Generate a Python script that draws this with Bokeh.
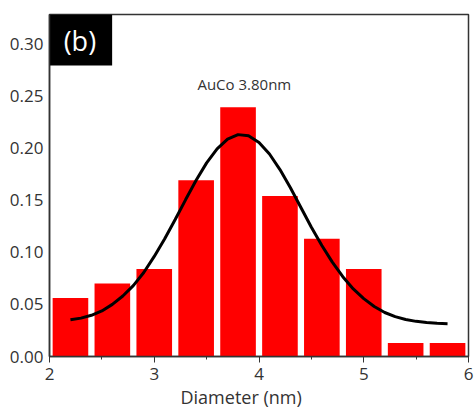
from bokeh.plotting import figure
from bokeh.models import FixedTicker, NumeralTickFormatter, Range1d, ColumnDataSource, Title
from bokeh.core.properties import value
from bokeh.embed import file_html
from bokeh.resources import INLINE

# Histogram data (bin centres, nm) and relative frequency
bin_centers = [2.2, 2.6, 3.0, 3.4, 3.8, 4.2, 4.6, 5.0, 5.4, 5.8]
frequency = [0.056, 0.070, 0.084, 0.169, 0.239, 0.154, 0.113, 0.084, 0.013, 0.013]

# Fitted curve
fit_x = [2.2, 2.3, 2.4, 2.5, 2.6, 2.7, 2.8, 2.9, 3.0, 3.1, 3.2, 3.3, 3.4, 3.5,
         3.6, 3.7, 3.8, 3.9, 4.0, 4.1, 4.2, 4.3, 4.4, 4.5, 4.6, 4.7, 4.8, 4.9,
         5.0, 5.1, 5.2, 5.3, 5.4, 5.5, 5.6, 5.7, 5.8]
fit_y = [0.0352, 0.0368, 0.0395, 0.0437, 0.0500, 0.0580, 0.0680, 0.0806, 0.0960,
         0.1129, 0.1314, 0.1505, 0.1690, 0.1857, 0.1992, 0.2085, 0.2128, 0.2117,
         0.2053, 0.1942, 0.1793, 0.1618, 0.1429, 0.1239, 0.1065, 0.0905, 0.0765,
         0.0648, 0.0555, 0.0480, 0.0422, 0.0382, 0.0355, 0.0337, 0.0325, 0.0318,
         0.0315]

x_ticks = [2, 3, 4, 5, 6]
y_ticks = [0.00, 0.05, 0.10, 0.15, 0.20, 0.25, 0.30]
panel_label = "(b)"
annotation = "AuCo 3.80nm"
x_title = "Diameter (nm)"

FONT = "Open Sans"
Y_TOP = 0.328

p = figure(width=474, height=414, output_backend="svg", toolbar_location=None,
           x_range=Range1d(2, 6), y_range=Range1d(0, Y_TOP),
           min_border_left=49, min_border_top=14, min_border_right=6,
           min_border_bottom=58)

p.grid.visible = False
p.outline_line_color = "#333333"
p.outline_line_width = 1.5
p.background_fill_color = "white"
p.border_fill_color = "white"

src = ColumnDataSource(dict(x=bin_centers, top=frequency))
p.vbar(x="x", top="top", bottom=0, width=0.34, source=src,
       fill_color="#FF0000", line_color=None)

p.line(fit_x, fit_y, line_color="black", line_width=3)

# Panel label box
p.quad(left=[2.0], right=[2.598], bottom=[0.279], top=[Y_TOP],
       fill_color="black", line_color=None)
p.text(x=[2.29], y=[0.3035], text=[panel_label], text_color="white",
       text_font=value(FONT), text_font_size="27px",
       text_align="center", text_baseline="middle")

p.text(x=[3.86], y=[0.261], text=[annotation], text_color="#333333",
       text_font=value(FONT), text_font_size="15px",
       text_align="center", text_baseline="middle")

xa = p.xaxis[0]
xa.ticker = FixedTicker(ticks=x_ticks, minor_ticks=[2.5, 3.5, 4.5, 5.5])
xa.major_label_text_font = FONT
xa.major_label_text_font_size = "17px"
xa.major_label_text_color = "#333333"
xa.major_tick_out = 6
xa.major_tick_in = 0
xa.minor_tick_out = 3
xa.minor_tick_in = 0
xa.axis_line_color = "#333333"
xa.axis_line_width = 1.5
xa.major_tick_line_color = "#333333"
xa.minor_tick_line_color = "#333333"

# Axis title, slightly left of centre as in the reference
p.add_layout(Title(text=x_title, align="left", offset=131, standoff=0,
                   text_font=FONT, text_font_size="18px",
                   text_font_style="normal", text_color="#333333"), "below")

ya = p.yaxis[0]
ya.ticker = FixedTicker(ticks=y_ticks, minor_ticks=[])
ya.formatter = NumeralTickFormatter(format="0.00")
ya.major_label_text_font = FONT
ya.major_label_text_font_size = "17px"
ya.major_label_text_color = "#333333"
ya.major_tick_out = 0
ya.major_tick_in = 0
ya.major_label_standoff = 6
ya.axis_line_color = "#333333"
ya.axis_line_width = 1.5

open("out.html", "w").write(file_html(p, INLINE))
